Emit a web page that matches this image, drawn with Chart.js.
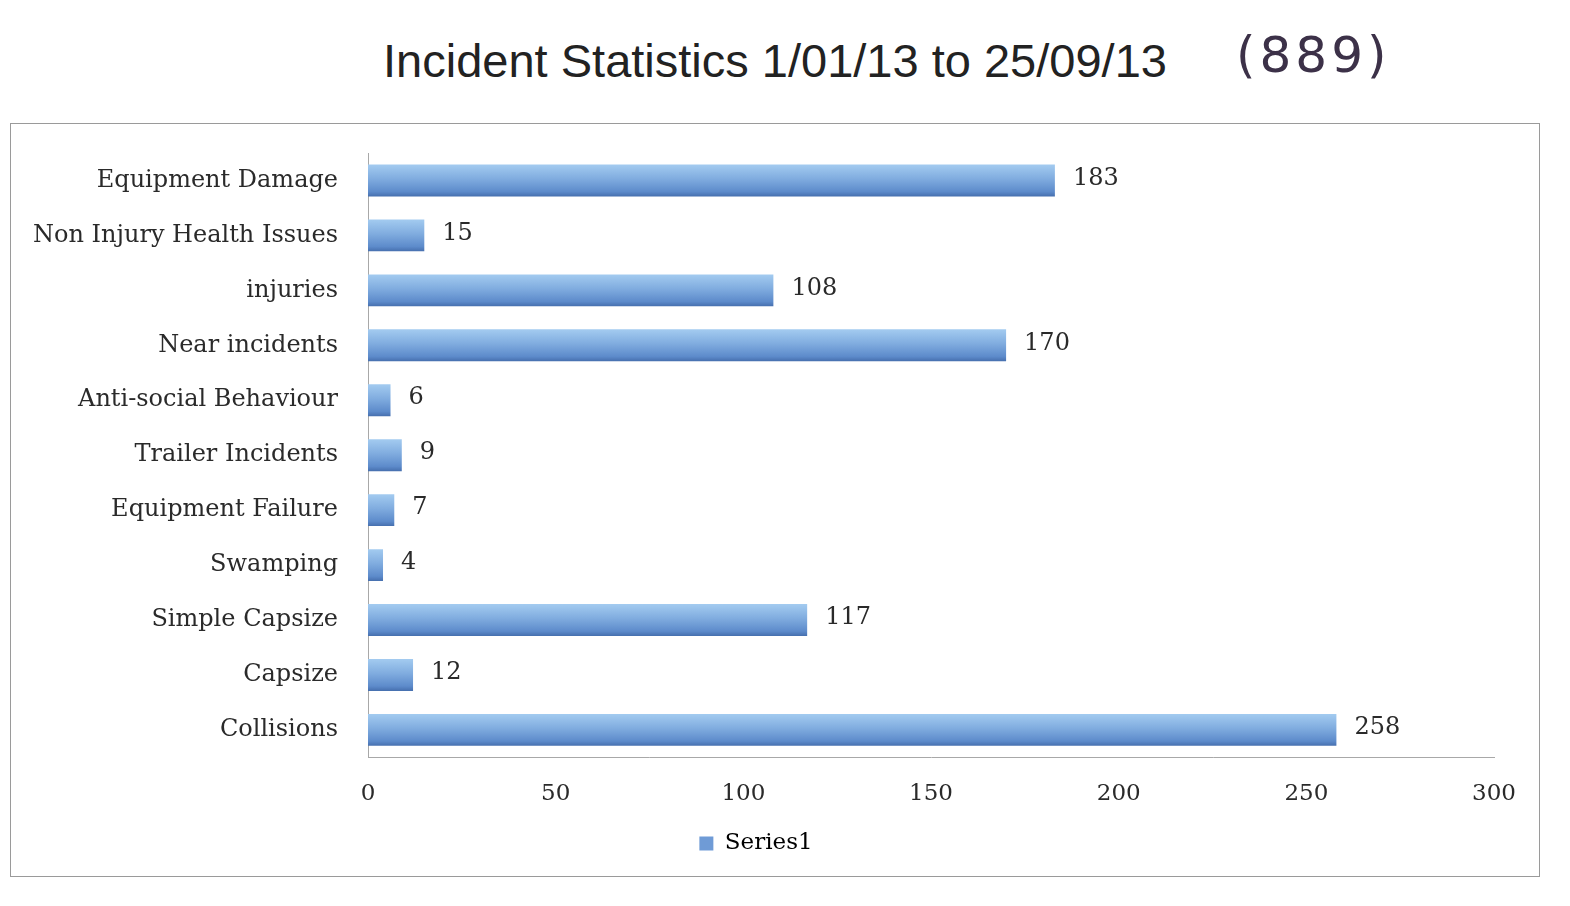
<!DOCTYPE html>
<html>
<head>
<meta charset="utf-8">
<script src="https://cdn.jsdelivr.net/npm/chart.js@4.4.1/dist/chart.umd.min.js"></script>
<style>
  body { margin: 0; background: #fff; width: 1570px; height: 906px; position: relative; overflow: hidden; }
  #title { position: absolute; left: 0; top: 33px; width: 1550px; text-align: center;
           font-family: "Liberation Sans", Arial, sans-serif; font-size: 47px; color: #222; }
  #note { position: absolute; left: 1236px; top: 26px; font-family: "DejaVu Sans", sans-serif;
          font-size: 50px; color: #3c3148; letter-spacing: 4px; }
  #box { position: absolute; left: 10px; top: 123px; width: 1530px; height: 754px;
         border: 1px solid #9a9a9a; box-sizing: border-box; }
</style>
</head>
<body>
<div id="title">Incident Statistics 1/01/13 to 25/09/13</div>
<div id="note">(889)</div>
<div id="box"><canvas id="myChart" width="1528" height="752"></canvas></div>
<script>
document.addEventListener("DOMContentLoaded", () => {

   const categories = ['Equipment Damage', 'Non Injury Health Issues', 'injuries', 'Near incidents',
      'Anti-social Behaviour', 'Trailer Incidents', 'Equipment Failure', 'Swamping',
      'Simple Capsize', 'Capsize', 'Collisions'];
   const series1 = [183, 15, 108, 170, 6, 9, 7, 4, 117, 12, 258];
   const xTicks = [0, 50, 100, 150, 200, 250, 300];

   const serif = "'DejaVu Serif', 'Liberation Serif', serif";
   const catPct = 1.0, barPct = 0.58;

   // vertical gradient on each bar
   const barFill = (context) => {
      const chart = context.chart;
      const yScale = chart.scales && chart.scales.y;
      if (!chart.chartArea || !yScale || context.dataIndex === undefined) return '#7aa7dd';
      const yc = yScale.getPixelForValue(context.dataIndex);
      const band = (chart.chartArea.bottom - chart.chartArea.top) / categories.length;
      const half = band * catPct * barPct / 2;
      const g = chart.ctx.createLinearGradient(0, yc - half, 0, yc + half);
      g.addColorStop(0, '#a3cbf0');
      g.addColorStop(0.45, '#80acdf');
      g.addColorStop(0.85, '#5d8bcb');
      g.addColorStop(1, '#466fae');
      return g;
   };

   const valueLabels = {
      id: 'valueLabels',
      afterDatasetsDraw(chart) {
         const ctx = chart.ctx;
         const meta = chart.getDatasetMeta(0);
         ctx.save();
         ctx.font = '24px ' + serif;
         ctx.fillStyle = '#2a2a2a';
         ctx.textBaseline = 'middle';
         meta.data.forEach((bar, i) => {
            ctx.fillText(String(series1[i]), bar.x + 18, bar.y - 2);
         });
         ctx.restore();
      }
   };

   const ctx = document.getElementById('myChart').getContext('2d');
   new Chart(ctx, {
      type: 'bar',
      data: {
         labels: categories,
         datasets: [{
            label: 'Series1',
            data: series1,
            backgroundColor: barFill,
            categoryPercentage: catPct,
            barPercentage: barPct
         }]
      },
      options: {
         indexAxis: 'y',
         responsive: false,
         animation: false,
         layout: { padding: { left: 0, right: 38, top: 29, bottom: 11 } },
         scales: {
            x: {
               min: 0, max: 300,
               afterBuildTicks: (axis) => { axis.ticks = xTicks.map(v => ({ value: v })); },
               grid: { display: false, drawTicks: false },
               border: { display: true, color: '#a8a8a8', width: 1 },
               ticks: { padding: 23, color: '#2a2a2a', font: { family: serif, size: 23 } }
            },
            y: {
               afterFit: (axis) => { axis.width = 357; },
               grid: { display: true, drawOnChartArea: false, drawTicks: true, tickLength: 30,
                       color: 'transparent', tickColor: 'transparent' },
               border: { display: true, color: '#a8a8a8', width: 1 },
               ticks: { padding: 0, color: '#2a2a2a', font: { family: serif, size: 24 } }
            }
         },
         plugins: {
            legend: {
               position: 'bottom',
               labels: {
                  color: '#2a2a2a',
                  font: { family: serif, size: 23 },
                  boxWidth: 14, boxHeight: 14, padding: 1,
                  generateLabels: (chart) => [{
                     text: 'Series1', fillStyle: '#6f9bd6', strokeStyle: '#6f9bd6',
                     lineWidth: 0, datasetIndex: 0, hidden: false
                  }]
               }
            },
            tooltip: { enabled: false }
         }
      },
      plugins: [valueLabels]
   });
});
</script>
</body>
</html>
